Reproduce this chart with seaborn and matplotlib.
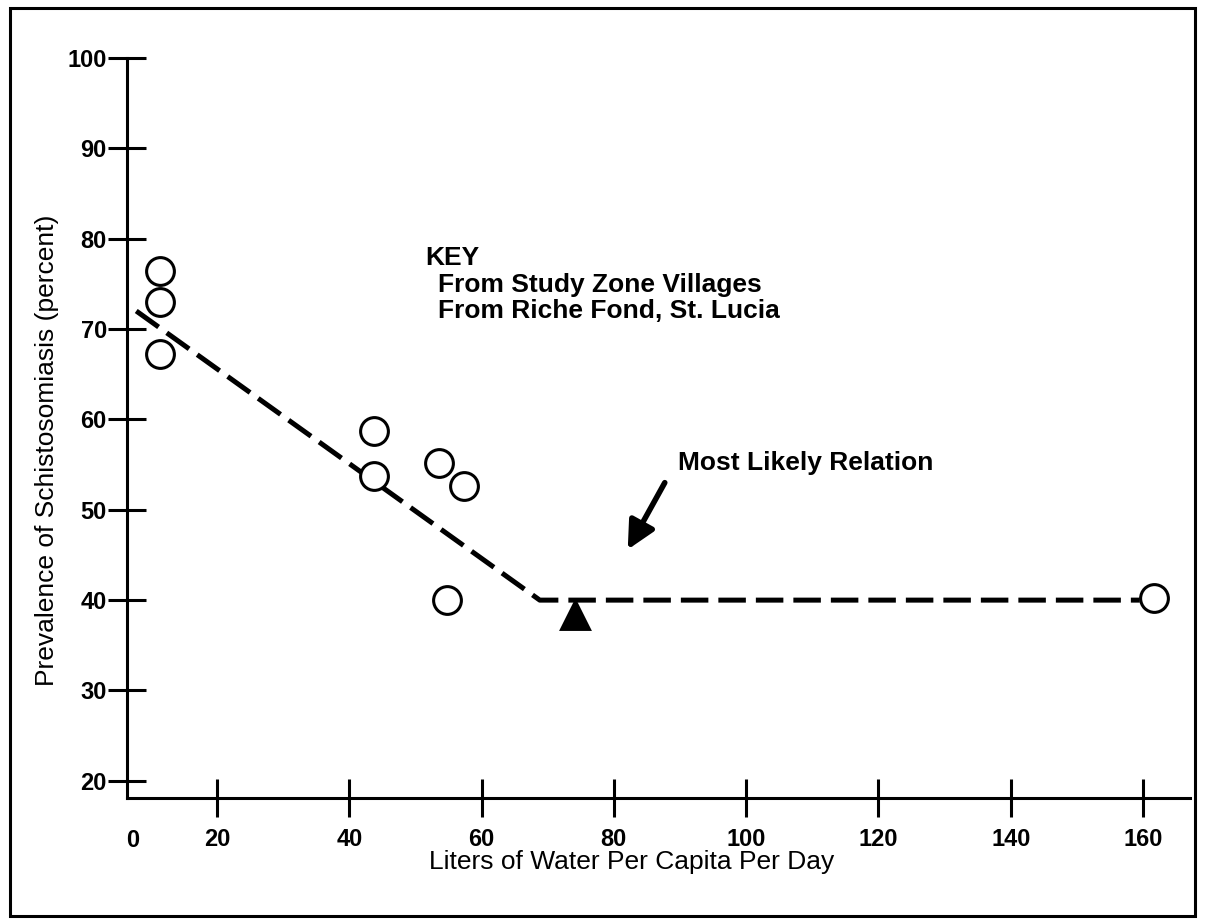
import matplotlib
matplotlib.use("Agg")
import matplotlib.pyplot as plt
import seaborn as sns
from matplotlib.patches import Rectangle

# data
study_x = [11.4, 11.4, 11.4, 43.7, 43.7, 53.6, 57.3, 54.8, 161.6]
study_y = [76.4, 73.0, 67.2, 58.7, 53.7, 55.2, 52.6, 40.0, 40.2]
riche_x = [74.1]
riche_y = [38.5]
relation_x = [7.8, 68.8, 159.5]
relation_y = [72.0, 40.0, 40.0]
x_ticks = [20, 40, 60, 80, 100, 120, 140, 160]
y_ticks = [20, 30, 40, 50, 60, 70, 80, 90, 100]

sns.set_style("ticks")
plt.rcParams['font.family'] = ['Liberation Sans', 'DejaVu Sans']
plt.rcParams['text.color'] = 'black'
plt.rcParams['axes.labelcolor'] = 'black'

fig = plt.figure(figsize=(12.06, 9.19), dpi=100)
ax = fig.add_axes([127 / 1206, 1 - 798 / 919, (1190 - 127) / 1206, (798 - 58) / 919])

sns.lineplot(x=relation_x, y=relation_y, ax=ax, color='black', lw=3.6,
             linestyle=(0, (5.5, 2)), sort=False, zorder=2)
sns.scatterplot(x=study_x, y=study_y, ax=ax, marker='o', s=400, color='white',
                edgecolor='black', linewidth=2.2, zorder=3)
sns.scatterplot(x=riche_x, y=riche_y, ax=ax, marker='^', s=560, color='black',
                edgecolor='black', linewidth=0, zorder=3)

ax.set_xlim(6.4, 167.1)
ax.set_ylim(18.1, 100)
ax.set_xticks(x_ticks)
ax.set_yticks(y_ticks)
ax.set_xticklabels([str(t) for t in x_ticks], fontweight='bold')
ax.set_yticklabels([str(t) for t in y_ticks], fontweight='bold')
ax.tick_params(axis='both', direction='inout', length=27, width=2.2,
               labelsize=17, color='black', labelcolor='black')
ax.tick_params(axis='x', pad=8)
ax.tick_params(axis='y', pad=1)
# "0" sits at the corner of the broken axis, no tick mark
ax.text(7.3, -0.057, "0", transform=ax.get_xaxis_transform(), ha='center', va='center',
        fontsize=17, fontweight='bold')

sns.despine(ax=ax)
for s in ['left', 'bottom']:
    ax.spines[s].set_linewidth(2.2)
    ax.spines[s].set_color('black')

ax.set_xlabel("Liters of Water Per Capita Per Day", fontsize=19)
ax.set_ylabel("Prevalence of Schistosomiasis (percent)", fontsize=19)
ax.xaxis.set_label_coords(0.475, -0.07)
ax.yaxis.set_label_coords(-0.064, 0.47)

ax.text(51.5, 77.9, "KEY", fontsize=19, fontweight='bold', va='center')
ax.text(53.4, 74.9, "From Study Zone Villages", fontsize=19, fontweight='bold', va='center')
ax.text(53.4, 72.0, "From Riche Fond, St. Lucia", fontsize=19, fontweight='bold', va='center')

ax.annotate("", xy=(82.1, 45.6), xytext=(87.7, 53.0),
            arrowprops=dict(arrowstyle='-|>', color='black', lw=4,
                            mutation_scale=42, shrinkA=0, shrinkB=0))
ax.text(89.7, 55.2, "Most Likely Relation", fontsize=19, fontweight='bold', va='center')

fig.patches.append(Rectangle((10 / 1206, 1 - 916 / 919), 1195 / 1206 - 10 / 1206,
                             (916 - 8) / 919, transform=fig.transFigure,
                             fill=False, edgecolor='black', lw=2.2))

fig.savefig("out.png", dpi=100)
